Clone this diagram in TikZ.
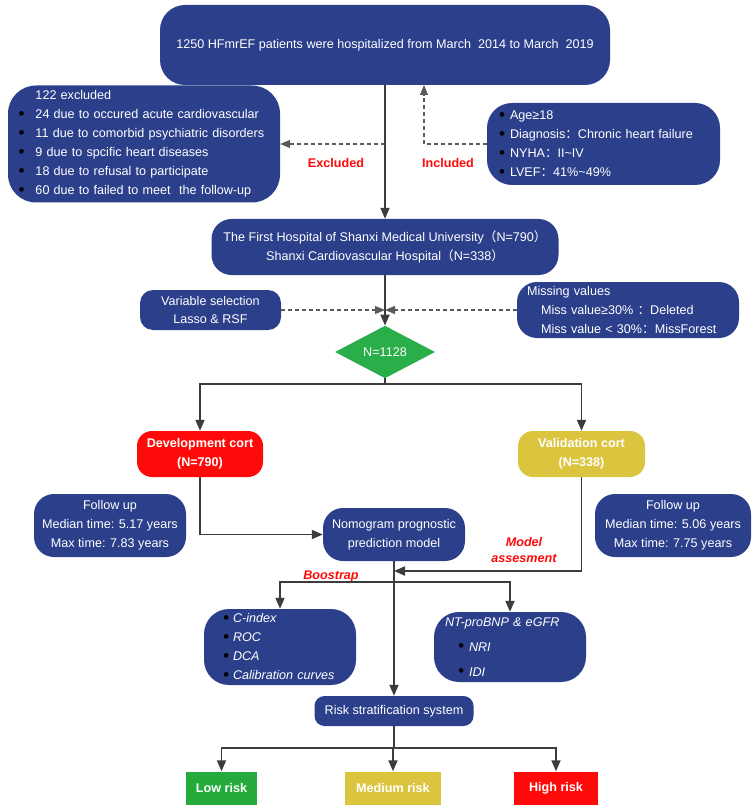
\documentclass[tikz,border=0pt]{standalone}
\usepackage{fontspec}
\setmainfont{Liberation Sans}
\newfontfamily\cjk{Noto Sans CJK SC}
\usetikzlibrary{arrows.meta,shapes.geometric}
\definecolor{navy}{HTML}{2B3F8B}
\definecolor{cred}{HTML}{FE0A0A}
\definecolor{cyel}{HTML}{DBC43E}
\definecolor{cgreen}{HTML}{24AB3C}
\definecolor{dgreen}{HTML}{2AAE4A}
\definecolor{lgray}{HTML}{3C3C3C}
\definecolor{dgray}{HTML}{5A5A5A}
\newcommand{\fsz}{\fontsize{12.6}{19}\selectfont}
\newcommand{\fwc}{{\cjk ：}}
\newcommand{\bult}[1][11pt]{\makebox[#1][l]{\color{black}\raisebox{-0.8pt}{\scalebox{1.35}{\textbullet}}}}
\begin{document}
\begin{tikzpicture}[x=1pt,y=-1pt,
  every node/.style={font=\fsz},
  blk/.style={fill=navy, text=white, align=center, inner sep=0pt, rounded corners=#1},
  blk/.default=20pt,
  wh/.style 2 args={minimum width=#1pt, minimum height=#2pt},
  cort/.style={text=white, inner sep=0pt, align=center, rounded corners=15pt, font=\fsz\bfseries},
  riskbox/.style={text=white, inner sep=0pt, font=\fsz\bfseries},
  lbl/.style={text=cred, font=\fsz\bfseries},
  ilbl/.style={text=cred, font=\fontsize{12.6}{16}\selectfont\bfseries\itshape, align=center},
  arr/.style={draw=lgray, line width=1.8pt, -{Triangle[length=11pt,width=9pt]}},
  ln/.style={draw=lgray, line width=1.8pt},
  dsh/.style={draw=dgray, line width=1.1pt, dash pattern=on 4pt off 3pt, -{Triangle[length=10pt,width=8pt]}}]
\useasboundingbox (0,0) rectangle (753,810);
% boxes
\node[blk=25pt, wh={450}{80}] (top) at (385,45) {1250 HFmrEF patients were hospitalized from March\ \ 2014 to March\ \ 2019};
\node[blk=28pt, wh={272}{117}, align=left, text width=251pt, inner xsep=10.5pt] (excl) at (144,144)
  {\hspace*{17pt}122 excluded\\ \bult[17pt]24 due to occured acute cardiovascular\\ \bult[17pt]11 due to comorbid psychiatric disorders\\
   \bult[17pt]9 due to spcific heart diseases\\ \bult[17pt]18 due to refusal to participate\\ \bult[17pt]60 due to failed to meet\ \ the follow-up};
\node[blk=25pt, wh={233}{82}, align=left, text width=209pt, inner xsep=12pt] (incl) at (603.5,144)
  {\bult Age≥18\\ \bult Diagnosis\fwc Chronic heart failure\\ \bult NYHA\fwc II\textasciitilde IV\\ \bult LVEF\fwc 41\%\textasciitilde49\%};
\node[blk, wh={347}{56}] (hosp) at (385,247)
  {The First Hospital of Shanxi Medical University{\cjk （}N=790{\cjk ）}\\ Shanxi Cardiovascular Hospital{\cjk （}N=338{\cjk ）}};
\node[blk=13pt, wh={141}{40}, font=\fontsize{12.6}{18}\selectfont] (varsel) at (210.5,310) {Variable selection\\ Lasso \& RSF};
\node[blk, wh={222}{56}, align=left, text width=202pt, inner xsep=10pt] (miss) at (628,310)
  {Missing values\\ \hspace*{14pt}Miss value≥30\% \fwc Deleted\\ \hspace*{14pt}Miss value < 30\%\fwc MissForest};
\node[diamond, fill=dgreen, text=white, inner sep=0pt, wh={100}{44}] (dia) at (385,352) {N=1128};
\node[cort, fill=cred, wh={126}{46}] (dev) at (200,454) {Development cort\\ (N=790)};
\node[cort, fill=cyel, wh={127}{46}] (val) at (581.5,454) {Validation cort\\ (N=338)};
\node[blk, wh={152}{63}] (fuL) at (110,525.5) {Follow up\\ Median time: 5.17 years\\ Max time: 7.83 years};
\node[blk, wh={156}{63}] (fuR) at (673,525.5) {Follow up\\ Median time: 5.06 years\\ Max time: 7.75 years};
\node[blk, wh={142}{53}] (nomo) at (394,534.5) {Nomogram prognostic\\ prediction model};
\node[blk=25pt, wh={152}{76}, align=left, text width=114pt, inner xsep=19pt, font=\fsz\itshape] (metL) at (280,647)
  {\bult[10pt]C-index\\ \bult[10pt]ROC\\ \bult[10pt]DCA\\ \bult[10pt]Calibration curves};
\node[blk=25pt, wh={152}{70}, align=left, text width=130pt, inner xsep=11pt, font=\fsz\itshape] (metR) at (510,647)
  {NT-proBNP \& eGFR\\[6pt] \hspace*{13pt}\bult NRI\\[6pt] \hspace*{13pt}\bult IDI};
\node[blk=10pt, wh={159}{30}] (risk) at (394,711) {Risk stratification system};
\node[riskbox, fill=cgreen, wh={71}{33}] (low) at (221.5,788) {Low risk};
\node[riskbox, fill=cyel, wh={96}{33}] (med) at (393,788) {Medium risk};
\node[riskbox, fill=cred, wh={84}{33}] (high) at (556,788) {High risk};
% labels
\node[lbl] (exlab) at (336,163) {Excluded};
\node[lbl] (inlab) at (448,163) {Included};
\node[ilbl] (bslab) at (331,576) {Boostrap};
\node[ilbl] (malab) at (524,549.5) {Model\\ assesment};
% connectors
\coordinate (exc) at (385,144);
\coordinate (inc) at (424,85);
\coordinate (mj) at (385,310);
\coordinate (sp1) at (385,384);
\coordinate (ma) at (394,571);
\coordinate (bs) at (394,582);
\coordinate (sp2) at (394,748);
\draw[arr] (top.south) -- (hosp.north);
\draw[dsh] (exc) -- (excl.east);
\draw[dsh] (incl.west) -| (inc);
\draw[arr] (hosp.south) -- (dia.north);
\draw[dsh] (varsel.east) -- (mj);
\draw[dsh] (miss.west) -- (mj);
\draw[ln] (dia.south) -- (sp1);
\draw[arr] (sp1) -| (dev.north);
\draw[arr] (sp1) -| (val.north);
\draw[arr] (dev.south) |- (nomo.west);
\draw[arr] (val.south) |- (ma);
\draw[arr] (nomo.south) -- (risk.north);
\draw[arr] (bs) -| (metL.north);
\draw[arr] (bs) -| (metR.north);
\draw[ln] (risk.south) -- (sp2);
\foreach \r in {low,med,high} \draw[arr] (sp2) -| (\r.north);
\end{tikzpicture}
\end{document}
